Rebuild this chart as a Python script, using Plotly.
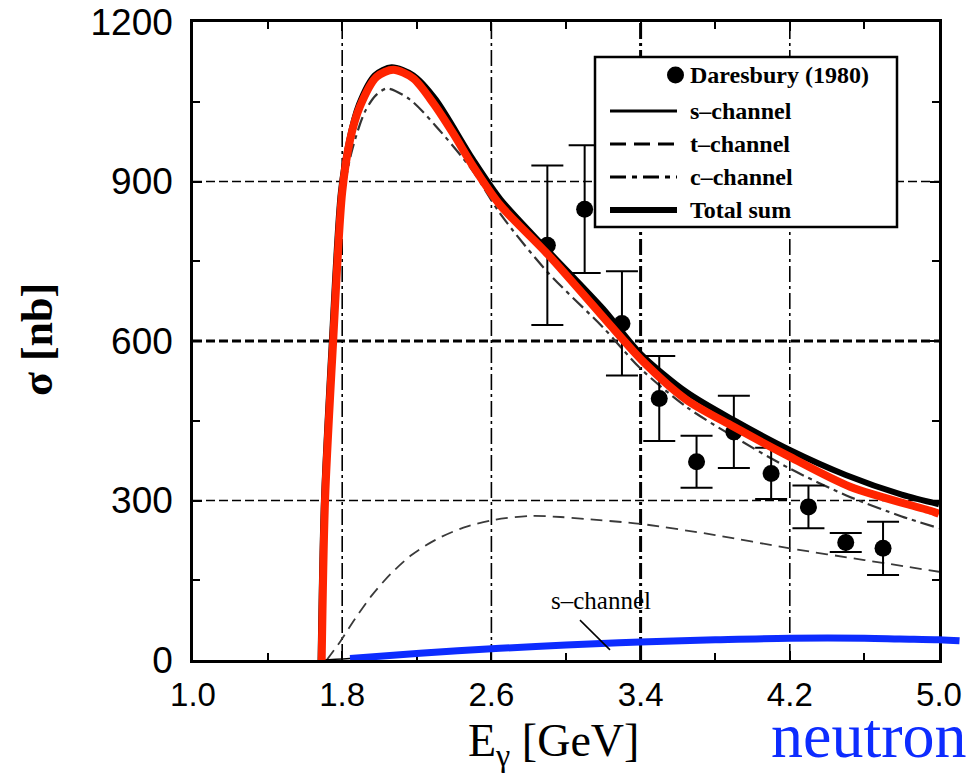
import plotly.graph_objects as go

# ---------------- data ----------------
# photon energy grid (GeV) and cross sections (nb)
E_total = [1.684, 1.702, 1.743, 1.793, 1.836, 1.89, 1.975, 2.065, 2.18, 2.30, 2.50, 2.65,
           2.90, 3.20, 3.40, 3.65, 3.90, 4.20, 4.50, 4.80, 5.00]
sig_total = [0, 300, 590, 880, 975, 1045, 1100, 1115, 1100, 1055, 942, 866,
             771, 660, 576, 503, 451, 395, 348, 311, 293]

E_c = [1.684, 1.705, 1.745, 1.80, 1.85, 1.92, 1.98, 2.04, 2.16, 2.30, 2.50, 2.65,
       2.90, 3.20, 3.40, 3.65, 3.90, 4.20, 4.50, 4.80, 5.00]
sig_c = [0, 290, 580, 860, 955, 1030, 1062, 1075, 1055, 1005, 920, 838,
         730, 625, 548, 475, 420, 360, 310, 270, 248]

E_t = [1.717, 1.79, 1.87, 1.96, 2.06, 2.17, 2.30, 2.45, 2.62, 2.81, 2.97, 3.18, 3.40, 3.80,
       4.20, 4.60, 5.00]
sig_t = [0, 35, 78, 122, 162, 197, 226, 249, 264, 271, 269, 263, 256, 235, 210, 188, 166]

E_s = [1.68, 1.84, 2.20, 2.60, 3.00, 3.40, 3.80, 4.20, 4.60, 5.00]
sig_s = [0, 3, 12, 21, 27, 32, 36, 39, 39, 38]

# proton total (overlay)
E_red = [1.69, 1.708, 1.75, 1.80, 1.842, 1.895, 1.985, 2.074, 2.181, 2.289, 2.396,
         2.503, 2.646, 2.905, 3.182, 3.406, 3.647, 3.897, 4.201, 4.523, 4.97, 5.0]
sig_red = [0, 300, 590, 880, 978, 1041, 1097, 1110, 1094, 1047, 990,
           928, 856, 762, 652, 564, 489, 439, 382, 326, 279, 275]

# neutron total
E_n = [1.842, 2.217, 2.646, 3.0, 3.397, 3.8, 4.2, 4.6, 4.79, 5.0, 5.11]
sig_n = [3, 12.6, 22, 28, 34, 38, 41, 41, 39.5, 38, 36]

# Daresbury (1980) measurements
E_data = [2.9, 3.1, 3.3, 3.5, 3.7, 3.9, 4.1, 4.3, 4.5, 4.7]
sig_data = [780, 848, 633, 492, 373, 429, 351, 288, 221, 210]
err_data = [150, 120, 98, 80, 49, 68, 48, 40, 18, 50]

x_ticks = [1.0, 1.8, 2.6, 3.4, 4.2, 5.0]
x_ticktext = ["1.0", "1.8", "2.6", "3.4", "4.2", "5.0"]
x_minor = [1.4, 2.2, 3.0, 3.8, 4.6]
y_ticks = [0, 300, 600, 900, 1200]
y_ticktext = ["0", "300", "600", "900", "1200"]
y_minor = [150, 450, 750, 1050]

legend_names = ["Daresbury (1980)", "s\u2013channel", "t\u2013channel", "c\u2013channel", "Total sum"]

# ---------------- geometry ----------------
W, H = 978, 775
ML, MR, MT, MB = 193, 13, 22, 115
PW, PH = W - ML - MR, H - MT - MB
AX_W = 746                      # width of the framed axes box
X0, X1 = 1.0, 5.0
px_per_gev = AX_W / (X1 - X0)

def xp(px):
    return (px - ML) / PW

def yp(py):
    return (H - MB - py) / PH

SERIF = "Liberation Serif, Times New Roman, serif"
SANS = "Liberation Sans, Arial, sans-serif"

fig = go.Figure()

fig.add_trace(go.Scatter(x=E_t, y=sig_t, mode="lines", name=legend_names[2],
                         line=dict(color="#3a3a3a", width=1.8, dash="12px,7px", shape="spline", smoothing=0.8)))
fig.add_trace(go.Scatter(x=E_c, y=sig_c, mode="lines", name=legend_names[3],
                         line=dict(color="#333333", width=2.2, dash="14px,5px,4px,5px", shape="spline", smoothing=0.8)))
fig.add_trace(go.Scatter(x=E_s, y=sig_s, mode="lines", name=legend_names[1],
                         line=dict(color="black", width=1.5, shape="spline")))
fig.add_trace(go.Scatter(x=E_total, y=sig_total, mode="lines", name=legend_names[4],
                         line=dict(color="black", width=6, shape="spline", smoothing=0.8)))
fig.add_trace(go.Scatter(x=E_data, y=sig_data, mode="markers", name=legend_names[0],
                         marker=dict(color="black", size=17, symbol="circle"),
                         error_y=dict(type="data", array=err_data, visible=True,
                                      color="black", thickness=2, width=16)))
fig.add_trace(go.Scatter(x=E_red, y=sig_red, mode="lines", name="proton",
                         line=dict(color="#ff2400", width=8, shape="spline", smoothing=0.8)))
# neutron curve lives on a wider overlay subplot so it may run past the frame
fig.add_trace(go.Scatter(x=E_n, y=sig_n, mode="lines", name="neutron",
                         xaxis="x2", yaxis="y2",
                         line=dict(color="#0d2cff", width=7, shape="spline")))

axis_common = dict(showline=True, linecolor="black", linewidth=2.5, mirror="allticks",
                   ticks="inside", ticklen=9, tickwidth=1.5, tickcolor="black",
                   showgrid=False, zeroline=False, automargin=False)

fig.update_layout(
    width=W, height=H, margin=dict(l=ML, r=MR, t=MT, b=MB),
    paper_bgcolor="white", plot_bgcolor="rgba(0,0,0,0)", showlegend=False,
    xaxis=dict(domain=[0, AX_W / PW], range=[X0, X1], tickvals=x_ticks, ticktext=x_ticktext,
               tickfont=dict(family=SANS, size=33, color="black"), ticklabelstandoff=4,
               minor=dict(tickvals=x_minor, ticks="inside", ticklen=7, tickwidth=1.5, tickcolor="black"),
               **axis_common),
    yaxis=dict(domain=[0, 1], range=[0, 1200], tickvals=y_ticks, ticktext=y_ticktext,
               tickfont=dict(family=SANS, size=37, color="black"), ticklabelstandoff=10,
               minor=dict(tickvals=y_minor, ticks="inside", ticklen=7, tickwidth=1.5, tickcolor="black"),
               **axis_common),
    xaxis2=dict(domain=[0, 1], range=[X0, X0 + PW / px_per_gev], anchor="y2", visible=False,
                automargin=False),
    yaxis2=dict(domain=[0, 1], range=[0, 1200], anchor="x2", visible=False, automargin=False),
)

# grid lines at the labelled ticks
shapes = []
for v in x_ticks[1:-1]:
    shapes.append(dict(type="line", xref="x", yref="y", x0=v, x1=v, y0=0, y1=1200, layer="below",
                       line=dict(color="black", width=3 if v == 3.4 else 1.6, dash="16px,4px,3px,4px")))
for v in y_ticks[1:-1]:
    shapes.append(dict(type="line", xref="x", yref="y", x0=X0, x1=X1, y0=v, y1=v, layer="below",
                       line=dict(color="black", width=3 if v == 600 else 1.6, dash="9px,4px")))

# leader line for the s-channel label
shapes.append(dict(type="line", xref="x", yref="y", x0=3.075, y0=75, x1=3.236, y1=19,
                   line=dict(color="black", width=1.5)))

# legend box
LX0, LX1, LY0, LY1 = 595, 897, 57, 227
shapes.append(dict(type="rect", xref="paper", yref="paper", x0=xp(LX0), x1=xp(LX1),
                   y0=yp(LY1), y1=yp(LY0), fillcolor="white", line=dict(color="black", width=2.5),
                   layer="above"))
row_y = [75, 111, 144, 177, 210]
samples = [None,
           dict(width=3, dash="solid"),
           dict(width=3, dash="16px,8px"),
           dict(width=3, dash="16px,6px,5px,6px"),
           dict(width=6, dash="solid")]
for ry, st in zip(row_y, samples):
    if st is None:
        shapes.append(dict(type="circle", xref="paper", yref="paper",
                           x0=xp(667), x1=xp(684), y0=yp(ry + 8.5), y1=yp(ry - 8.5),
                           fillcolor="black", line=dict(color="black", width=0), layer="above"))
    else:
        shapes.append(dict(type="line", xref="paper", yref="paper", x0=xp(610), x1=xp(677),
                           y0=yp(ry), y1=yp(ry), line=dict(color="black", **st), layer="above"))
fig.update_layout(shapes=shapes)

annotations = []
for ry, name in zip(row_y, legend_names):
    annotations.append(dict(xref="paper", yref="paper", x=xp(688), y=yp(ry), text="<b>" + name + "</b>",
                            showarrow=False, xanchor="left", yanchor="middle",
                            font=dict(family=SERIF, size=24, color="black")))
annotations += [
    dict(xref="x", yref="y", x=3.19, y=111, text="s\u2013channel", showarrow=False,
         xanchor="center", yanchor="middle",
         font=dict(family=SERIF, size=25, color="black")),
    dict(xref="paper", yref="paper", x=xp(37), y=yp(340), text="<b>\u03c3 [nb]</b>", textangle=-90,
         xanchor="center", yanchor="middle",
         showarrow=False, font=dict(family=SERIF, size=44, color="black")),
    dict(xref="paper", yref="paper", x=xp(553), y=yp(744), text="E<sub>\u03b3</sub> [GeV]",
         xanchor="center", yanchor="middle",
         showarrow=False, font=dict(family=SERIF, size=46, color="black")),
    dict(xref="paper", yref="paper", x=xp(869), y=yp(735), text="neutron",
         xanchor="center", yanchor="middle",
         showarrow=False, font=dict(family=SERIF, size=64, color="#0d2cff")),
]
fig.update_layout(annotations=annotations)

fig.write_html("out.html")
